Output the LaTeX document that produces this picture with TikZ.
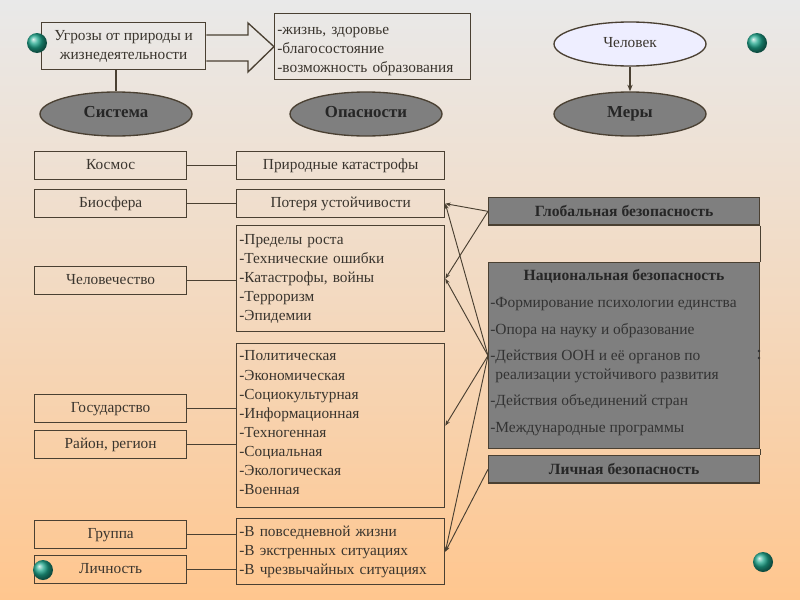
\documentclass[tikz,border=0pt]{standalone}
\usepackage{fontspec}
\setmainfont{Liberation Serif}
\usetikzlibrary{shapes.geometric,arrows.meta}
\definecolor{ink}{HTML}{3A352E}
\definecolor{edge}{HTML}{4A4032}
\definecolor{grayfill}{HTML}{7F7F7F}
\definecolor{lilac}{HTML}{EEEEFF}
\definecolor{bgtop}{HTML}{E9E9E9}
\definecolor{bgbot}{HTML}{FFC68E}
\definecolor{gem}{HTML}{1FA88E}
\tikzset{
  x=0.75pt,y=-0.75pt,
  box/.style={draw=edge,line width=1pt,inner sep=0pt,anchor=north west,text=ink,font=\fontsize{11.5}{14.3}\selectfont},
  lbox/.style={box,minimum width=114pt,minimum height=21pt,align=center,text height=8pt,text depth=3pt},
  mbox/.style={box,minimum width=156pt,align=left},
  gbox/.style={box,fill=grayfill,minimum width=203.25pt,text=black!85},
  oval/.style={ellipse,draw=edge,line width=1pt,minimum width=114pt,minimum height=33pt,inner sep=0pt,fill=grayfill,text=black!85,font=\fontsize{12.6}{14}\selectfont\bfseries,text height=8pt,text depth=2.5pt},
  lnk/.style={draw=edge,line width=1pt},
  arr/.style={draw=edge,line width=0.7pt,-{Stealth[length=4pt,width=3pt]}},
  tline/.style={anchor=west,inner sep=0pt,text=black!80,font=\fontsize{11.6}{13}\selectfont},
  gbold/.style={font=\fontsize{11.7}{14}\selectfont\bfseries},
  gemball/.style={circle,minimum size=15pt,inner sep=0pt,ball color=gem,shading=ball}
}
\begin{document}
\begin{tikzpicture}
\useasboundingbox (0,0) rectangle (800,600);
\shade[top color=bgtop,bottom color=bgbot,middle color=bgbot!45!bgtop] (0,0) rectangle (800,600);

% top row
\node[box,minimum width=123pt,minimum height=35pt,align=center] (threat) at (41,22) {Угрозы от природы и\\жизнедеятельности};
\node[box,minimum width=147pt,minimum height=49.5pt,align=left,text width=145pt] (goods) at (274,13) {\rule{0pt}{13pt}\hspace{1pt}-жизнь, здоровье\\\hspace{1pt}-благосостояние\\\hspace{1pt}-возможность образования};
\coordinate (a1) at (248,35);
\coordinate (a2) at (248,23);
\coordinate (a3) at (248,72);
\coordinate (a4) at (248,61);
\draw[lnk] (threat.east |- a1) -- (a1) -- (a2) -- (goods.west) -- (a3) -- (a4) -- (threat.east |- a4);

\node[oval] (sys) at (116,114) {Система};
\node[oval] (dang) at (366,114) {Опасности};
\node[oval] (meas) at (630,114) {Меры};
\node[oval,fill=lilac,font=\fontsize{11.5}{14}\selectfont,text=ink] (man) at (630,44) {Человек};
\draw[lnk] (threat.south -| sys.north) -- (sys.north);
\draw[draw=edge,line width=0.8pt,-{Stealth[length=5pt,width=4pt]}] (man) -- (meas);

% left column
\node[lbox] (kos) at (34,151) {Космос};
\node[lbox] (bio) at (34,189) {Биосфера};
\node[lbox] (hum) at (34,266) {Человечество};
\node[lbox] (gos) at (34,394) {Государство};
\node[lbox] (reg) at (34,430) {Район, регион};
\node[lbox] (grp) at (34,520) {Группа};
\node[lbox] (per) at (34,555) {Личность};

% middle column
\node[mbox,minimum height=21pt,align=center,text height=8pt,text depth=3pt] (nat) at (236,151) {Природные катастрофы};
\node[mbox,minimum height=21pt,align=center,text height=8pt,text depth=3pt] (pot) at (236,189) {Потеря устойчивости};
\node[mbox,minimum height=79.5pt,text width=154pt] (pre) at (236,225) {\hspace{1pt}-Пределы роста\\\hspace{1pt}-Технические ошибки\\\hspace{1pt}-Катастрофы, войны\\\hspace{1pt}-Терроризм\\\hspace{1pt}-Эпидемии};
\node[mbox,minimum height=123pt,text width=154pt] (pol) at (236,343) {\hspace{1pt}-Политическая\\\hspace{1pt}-Экономическая\\\hspace{1pt}-Социокультурная\\\hspace{1pt}-Информационная\\\hspace{1pt}-Техногенная\\\hspace{1pt}-Социальная\\\hspace{1pt}-Экологическая\\\hspace{1pt}-Военная\rule[-4.5pt]{0pt}{1pt}};
\node[mbox,minimum height=49.5pt,text width=154pt] (eve) at (236,518) {\hspace{1pt}-В повседневной жизни\\\hspace{1pt}-В экстренных ситуациях\\\hspace{1pt}-В чрезвычайных ситуациях};

\draw[lnk,line width=0.6pt] (kos) -- (nat);
\draw[lnk] (bio) -- (pot);
\draw[lnk] (hum) -- (hum -| pre.west);
\draw[lnk] (gos) -- (gos -| pol.west);
\draw[lnk] (reg) -- (reg -| pol.west);
\draw[lnk] (grp) -- (grp -| eve.west);
\draw[lnk] (per) -- (per -| eve.west);

% right column
\node[gbox,minimum height=20.5pt,align=center,gbold] (glob) at (488,197) {Глобальная безопасность};
\node[gbox,minimum height=139.5pt] (natl) at (488,262) {};
\node[gbox,minimum height=20.5pt,align=center,gbold] (pers) at (488,455) {Личная безопасность};
\draw[draw=edge,line width=0.7pt] (glob.south east) -- (natl.north east);
\draw[draw=edge,line width=0.7pt] (natl.south east) -- (pers.north east);
\node[inner sep=0pt,gbold,text=black!85] (t0) at (624,276) {Национальная безопасность};
\node[tline] (t1) at (490,304) {-Формирование психологии единства};
\node[tline] (t2) at (490,331) {-Опора на науку и образование};
\node[tline] (t3) at (490,357) {-Действия ООН и её органов по};
\node[tline] (t4) at (495,376) {реализации устойчивого развития};
\node[tline] (t5) at (490,402) {-Действия объединений стран};
\node[tline] (t6) at (490,429) {-Международные программы};
\fill[black!80] (759,351) circle (1pt) (759,358) circle (1pt);

\draw[arr] (glob.west) -- (pot.east);
\draw[arr] (glob.west) -- (pre.east);
\draw[arr] (natl.west) -- (pot.east);
\draw[arr] (natl.west) -- (pre.east);
\draw[arr] (natl.west) -- (pol.east);
\draw[arr] (natl.west) -- (eve.east);
\draw[arr] (pers.west) -- (eve.east);

% gems
\node[gemball] (g1) at (37,43) {};
\node[gemball] (g2) at (757,43) {};
\node[gemball] (g3) at (43,570) {};
\node[gemball] (g4) at (763,562) {};
\end{tikzpicture}
\end{document}
